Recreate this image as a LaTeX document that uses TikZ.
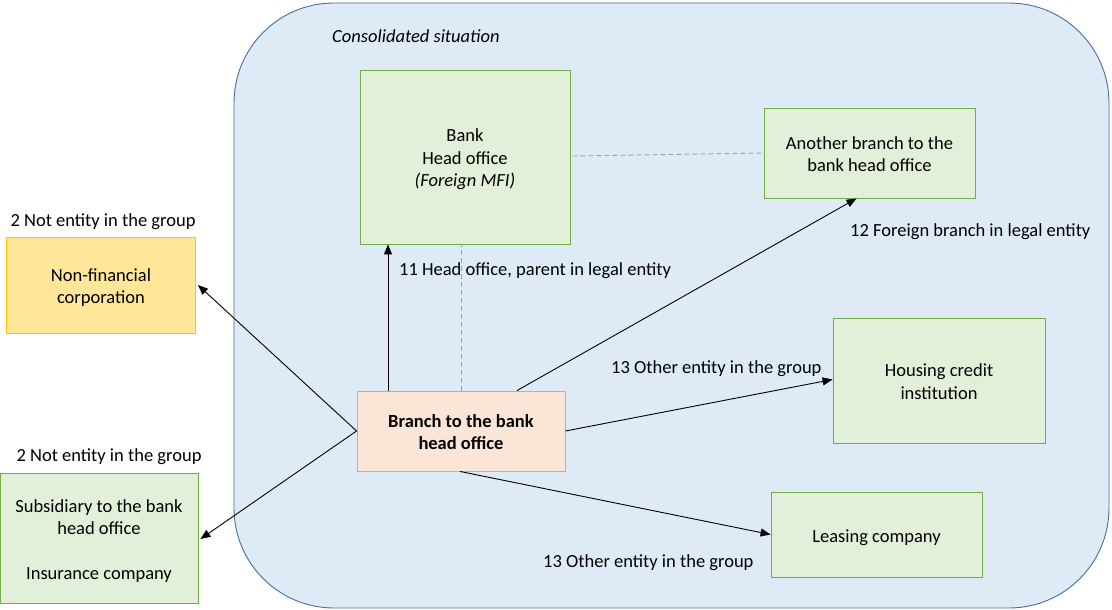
\documentclass[tikz,border=0pt]{standalone}
\usepackage{fontspec}
\setmainfont{Carlito}
\usetikzlibrary{arrows.meta}
\definecolor{consfill}{HTML}{DEEBF7}
\definecolor{consdraw}{HTML}{41719C}
\definecolor{grfill}{HTML}{E2F0D9}
\definecolor{grdraw}{HTML}{70AD47}
\definecolor{yefill}{HTML}{FFE699}
\definecolor{yedraw}{HTML}{FFC000}
\definecolor{orfill}{HTML}{FBE5D6}
\definecolor{ordraw}{HTML}{F4A064}
\definecolor{dashgray}{HTML}{A0A0A0}
\tikzset{
  every node/.style={font=\fontsize{18.5}{22.5}\selectfont},
  box/.style={draw, line width=0.9pt, inner sep=2pt, align=center, anchor=center},
  greenbox/.style={box, draw=grdraw, fill=grfill},
  yellowbox/.style={box, draw=yedraw, fill=yefill},
  orangebox/.style={box, draw=ordraw, fill=orfill},
  lbl/.style={inner sep=0pt},
  conn/.style={line width=0.9pt, -{Triangle[length=10pt,width=8pt]}},
  dashconn/.style={dashgray, line width=0.9pt, dash pattern=on 5pt off 3pt}
}
\newcommand{\dn}[1]{\raisebox{-3pt}[\height][\depth]{\begin{tabular}{@{}c@{}}#1\end{tabular}}}
\begin{document}
\begin{tikzpicture}[x=1pt,y=-1pt]
\useasboundingbox (0,0) rectangle (1112,610);
\fill[white] (0,0) rectangle (1112,610);
% consolidated situation
\draw[consdraw, fill=consfill, line width=0.9pt, rounded corners=100pt] (234,3) rectangle (1109,608);
\node[lbl, anchor=west, font=\fontsize{18.5}{22}\selectfont\itshape] (cons) at (332,36) {Consolidated situation};
% nodes
\node[greenbox, minimum width=210pt, minimum height=174pt] (bank) at (465,157) {\dn{Bank\\Head office\\\textit{(Foreign MFI)}}};
\node[greenbox, minimum width=211pt, minimum height=90pt] (another) at (869.5,153) {\dn{Another branch to the\\bank head office}};
\node[yellowbox, minimum width=189pt, minimum height=96pt] (nonfin) at (101,285) {\dn{Non-financial\\corporation}};
\node[greenbox, minimum width=198pt, minimum height=130pt] (subs) at (99,538) {\dn{Subsidiary to the bank\\head office\\[22pt]Insurance company}};
\node[orangebox, minimum width=208pt, minimum height=80pt, font=\fontsize{18.5}{22.5}\selectfont\bfseries] (branch) at (461,431) {\dn{Branch to the bank\\head office}};
\node[greenbox, minimum width=212pt, minimum height=125pt] (housing) at (939,380.5) {\dn{Housing credit\\institution}};
\node[greenbox, minimum width=211pt, minimum height=85pt] (leasing) at (876.5,534.5) {\dn{Leasing company}};
% labels
\node[lbl] (l2a) at (103,221.5) {2 Not entity in the group};
\node[lbl] (l2b) at (109,456.5) {2 Not entity in the group};
\node[lbl, anchor=west] (l11) at (399,271) {11 Head office, parent in legal entity};
\node[lbl, anchor=west] (l12) at (850,231.5) {12 Foreign branch in legal entity};
\node[lbl, anchor=west] (l13a) at (611,368.5) {13 Other entity in the group};
\node[lbl, anchor=west] (l13b) at (543,562.5) {13 Other entity in the group};
% dashed
\draw[dashconn] (branch.north -| 461,0) -- (bank.south -| 461,0);
\draw[dashconn] ([yshift=1pt]bank.east) ++(2pt,0) -- (another.west);
% connectors
\coordinate (bl) at (branch.west);
\draw[conn] (branch.north -| 388,0) -- (bank.south -| 388,0);
\draw[conn] ([xshift=56pt]branch.north) -- ([xshift=-13pt]another.south);
\draw[conn] (branch.east) -- ([yshift=1pt]housing.west);
\draw[conn] ([xshift=-1pt]branch.south) -- (leasing.west);
\draw[conn] (bl) -- ([xshift=2pt]nonfin.east);
\draw[conn] (bl) -- ([xshift=2pt,yshift=-1pt]subs.east);
\end{tikzpicture}
\end{document}
